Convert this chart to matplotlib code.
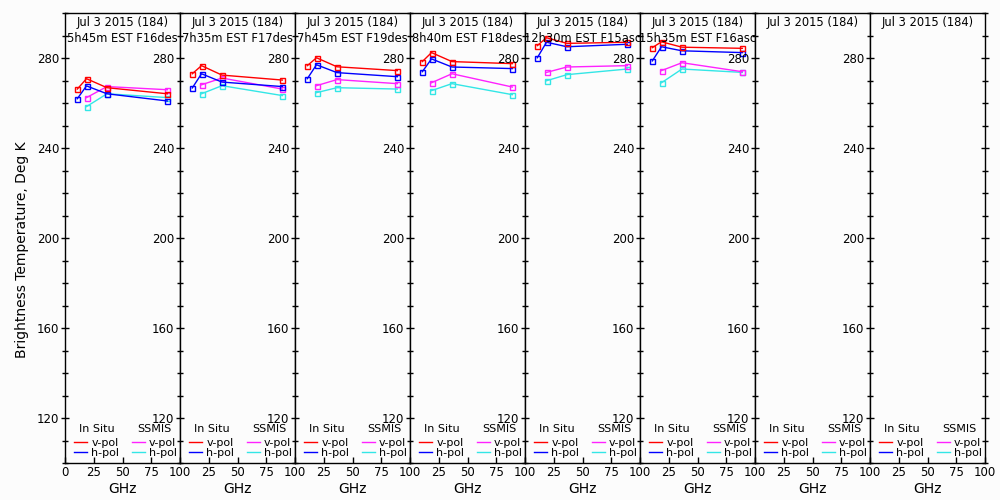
# brightness temperature vs frequency, in situ vs SSMIS, one panel per overpass
import matplotlib
matplotlib.use('Agg')
import matplotlib.pyplot as plt
from matplotlib.ticker import MultipleLocator

date_label = 'Jul 3 2015 (184)'
pass_labels = ['5h45m EST F16des', '7h35m EST F17des', '7h45m EST F19des',
               '8h40m EST F18des', '12h30m EST F15asc', '15h35m EST F16asc', '', '']

insitu_freq = [10.7, 18.7, 36.5, 89.0]
ssmis_freq = [18.7, 36.5, 89.0]

# per-panel values (K); empty lists = no data for that pass
insitu_v = [[266.2, 270.8, 266.8, 264.1], [273.0, 276.6, 272.4, 270.2],
            [276.6, 280.1, 276.1, 274.4], [278.4, 282.4, 278.4, 277.5],
            [285.5, 289.0, 286.5, 287.0], [284.6, 287.2, 284.8, 284.3], [], []]
insitu_h = [[261.9, 267.6, 264.1, 260.9], [266.7, 273.0, 269.3, 267.3],
            [270.8, 277.0, 273.5, 271.7], [273.9, 279.6, 276.0, 275.3],
            [280.1, 287.0, 285.0, 286.1], [278.7, 285.0, 283.2, 282.4], [], []]
ssmis_v = [[262.4, 267.3, 265.9], [268.1, 271.1, 266.2], [267.7, 270.4, 268.6],
           [269.0, 273.0, 267.1], [273.6, 276.0, 276.6], [274.4, 277.9, 273.9], [], []]
ssmis_h = [[258.4, 264.1, 262.4], [264.1, 267.7, 263.3], [264.6, 266.8, 266.2],
           [265.5, 268.6, 263.7], [269.9, 272.6, 275.1], [269.0, 275.1, 273.6], [], []]

c_v, c_h, c_sv, c_sh = '#ff0000', '#0000ff', '#ff22ff', '#33e6e6'
bg = '#fcfcfc'

plt.rcParams['font.family'] = 'DejaVu Sans'
plt.rcParams['font.size'] = 8

fig = plt.figure(figsize=(10, 5), dpi=100, facecolor=bg)
n = len(pass_labels)
left, width, bottom, height = 0.065, 0.115, 0.074, 0.9
fs_title = 8.3
fs_leg = 8.0

for i in range(n):
    ax = fig.add_axes([left + i * width, bottom, width, height], facecolor=bg)
    ms = dict(marker='s', markersize=3.6, markerfacecolor='none', markeredgewidth=1.0, linewidth=1.0)
    if insitu_v[i]:
        ax.plot(ssmis_freq, ssmis_h[i], color=c_sh, **ms)
        ax.plot(ssmis_freq, ssmis_v[i], color=c_sv, **ms)
        ax.plot(insitu_freq, insitu_h[i], color=c_h, **ms)
        ax.plot(insitu_freq, insitu_v[i], color=c_v, **ms)

    ax.set_xlim(0, 100)
    ax.set_ylim(100, 300)
    ax.yaxis.set_minor_locator(MultipleLocator(10))
    ax.set_yticks([120, 160, 200, 240, 280])
    ax.set_xticks([0, 25, 50, 75, 100])
    if i == 0:
        ax.set_xticklabels(['0', '25', '50', '75', '100'])
    else:
        ax.set_xticklabels(['', '25', '50', '75', '100'])
    ax.tick_params(axis='y', which='major', direction='inout', length=6, width=1, pad=1,
                   labelsize=8.5, right=(i == n - 1))
    ax.tick_params(axis='y', which='minor', direction='inout', length=5, width=1,
                   right=(i == n - 1))
    ax.tick_params(axis='x', which='major', direction='in', length=4, width=1, pad=2,
                   labelsize=8.5)
    for s in ax.spines.values():
        s.set_linewidth(1.0)
    ax.set_xlabel('GHz', fontsize=10, labelpad=2)

    ax.text(0.5, 0.993, date_label, transform=ax.transAxes, ha='center', va='top', fontsize=fs_title)
    ax.text(0.5, 0.958, pass_labels[i], transform=ax.transAxes, ha='center', va='top', fontsize=fs_title)

    # legend: headers + sample lines
    ax.text(0.12, 0.0756, 'In Situ', transform=ax.transAxes, ha='left', va='center', fontsize=fs_leg)
    ax.text(0.63, 0.0756, 'SSMIS', transform=ax.transAxes, ha='left', va='center', fontsize=fs_leg)
    hs = [plt.Line2D([], [], color=c_v, lw=1), plt.Line2D([], [], color=c_h, lw=1),
          plt.Line2D([], [], color=c_sv, lw=1), plt.Line2D([], [], color=c_sh, lw=1)]
    ax.legend(hs, ['v-pol', 'h-pol', 'v-pol', 'h-pol'], ncol=2,
              loc='lower left', bbox_to_anchor=(0.078, 0.012), frameon=False, fontsize=fs_leg,
              handlelength=1.2, handletextpad=0.36, columnspacing=1.1, labelspacing=-0.05,
              borderpad=0.0, borderaxespad=0.0)

fig.text(0.022, 0.5, 'Brightness Temperature, Deg K', rotation=90, ha='center', va='center',
         fontsize=10)

fig.savefig('out.png', dpi=100, facecolor=bg)
